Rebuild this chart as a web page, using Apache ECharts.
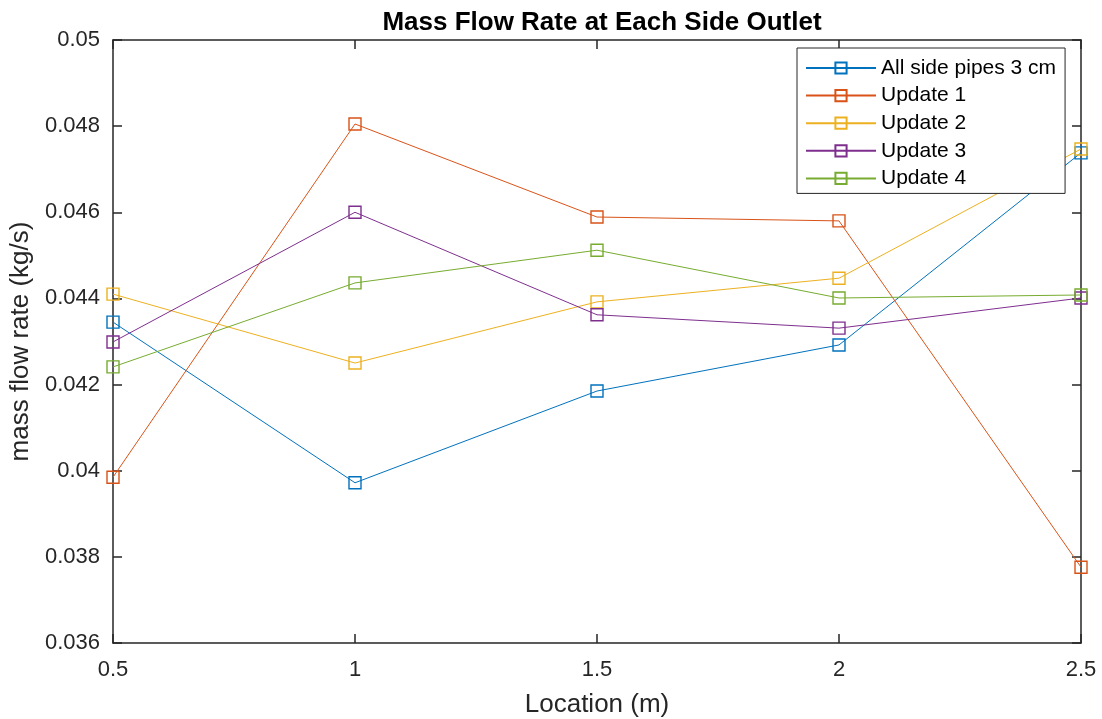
<!DOCTYPE html>
<html>
<head>
<meta charset="utf-8">
<script src="https://cdn.jsdelivr.net/npm/echarts@6/dist/echarts.min.js"></script>
<style>
  html, body { margin: 0; padding: 0; background: #fff; }
  #chart { width: 1102px; height: 719px; }
</style>
</head>
<body>
<div id="chart"></div>
<script>
// locations along the pipe (m)
var locations = [0.5, 1, 1.5, 2, 2.5];
var seriesNames = ['All side pipes 3 cm', 'Update 1', 'Update 2', 'Update 3', 'Update 4'];
var allSide3cm = [0.04345, 0.03972, 0.04185, 0.04292, 0.04738];
var update1 = [0.03985, 0.04805, 0.04589, 0.04580, 0.03776];
var update2 = [0.04410, 0.04250, 0.04392, 0.04447, 0.04747];
var update3 = [0.04299, 0.04600, 0.04362, 0.04331, 0.04401];
var update4 = [0.04241, 0.04436, 0.04512, 0.04401, 0.04408];
var colors = ['#0072BD', '#D95319', '#EDB120', '#7E2F8E', '#77AC30'];

var font = 'Liberation Sans, Arial, Helvetica, sans-serif';
var values = [allSide3cm, update1, update2, update3, update4];

function pairs(arr) {
  var out = [];
  for (var i = 0; i < locations.length; i++) out.push([locations[i], arr[i]]);
  return out;
}

var series = [];
for (var s = 0; s < values.length; s++) {
  series.push({
    name: seriesNames[s],
    type: 'line',
    data: pairs(values[s]),
    symbol: 'rect',
    symbolSize: 12,
    showAllSymbol: true,
    clip: false,
    color: colors[s],
    lineStyle: { width: 1, color: colors[s] },
    itemStyle: { color: 'rgba(0,0,0,0)', borderColor: colors[s], borderWidth: 1.4 },
    emphasis: { disabled: true },
    animation: false
  });
}

var chart = echarts.init(document.getElementById('chart'));
var axisCol = '#262626';
var boxLine = { show: true, lineStyle: { color: axisCol, width: 1.5 } };
var inTick = { show: true, inside: true, length: 9, lineStyle: { color: axisCol, width: 1.5 } };
chart.setOption({
  backgroundColor: '#fff',
  textStyle: { fontFamily: font },
  title: {
    text: 'Mass Flow Rate at Each Side Outlet',
    left: 597, top: 5, textAlign: 'center',
    textStyle: { fontFamily: font, fontSize: 26, fontWeight: 'bold', color: '#000' }
  },
  legend: {
    left: 797, top: 48,
    orient: 'vertical',
    data: seriesNames,
    itemWidth: 70, itemHeight: 14, itemGap: 5.6,
    padding: [9, 9, 4, 8],
    backgroundColor: '#fff',
    borderColor: axisCol, borderWidth: 1,
    textStyle: { fontFamily: font, fontSize: 21, color: '#000', lineHeight: 22 }
  },
  grid: { left: 113, right: 21, top: 40, bottom: 76, containLabel: false, outerBoundsMode: 'none' },
  xAxis: [{
    type: 'value', min: 0.5, max: 2.5, interval: 0.5,
    name: 'Location (m)', nameLocation: 'middle', nameGap: 49,
    nameTextStyle: { fontFamily: font, fontSize: 26, color: axisCol },
    axisLine: boxLine, axisTick: inTick,
    axisLabel: { fontFamily: font, fontSize: 22, color: axisCol, margin: 16 },
    splitLine: { show: false }
  }, {
    type: 'value', position: 'top', min: 0.5, max: 2.5, interval: 0.5,
    axisLine: boxLine, axisTick: inTick,
    axisLabel: { show: false }, splitLine: { show: false }
  }],
  yAxis: [{
    type: 'value', min: 0.036, max: 0.05, interval: 0.002,
    name: 'mass flow rate (kg/s)', nameLocation: 'middle', nameGap: 73,
    nameTextStyle: { fontFamily: font, fontSize: 26, color: axisCol },
    axisLine: boxLine, axisTick: inTick,
    axisLabel: {
      fontFamily: font, fontSize: 22, color: axisCol, margin: 13,
      formatter: function (v) { return String(parseFloat(v.toFixed(4))); }
    },
    splitLine: { show: false }
  }, {
    type: 'value', position: 'right', min: 0.036, max: 0.05, interval: 0.002,
    axisLine: boxLine, axisTick: inTick,
    axisLabel: { show: false }, splitLine: { show: false }
  }],
  series: series
});
</script>
</body>
</html>
